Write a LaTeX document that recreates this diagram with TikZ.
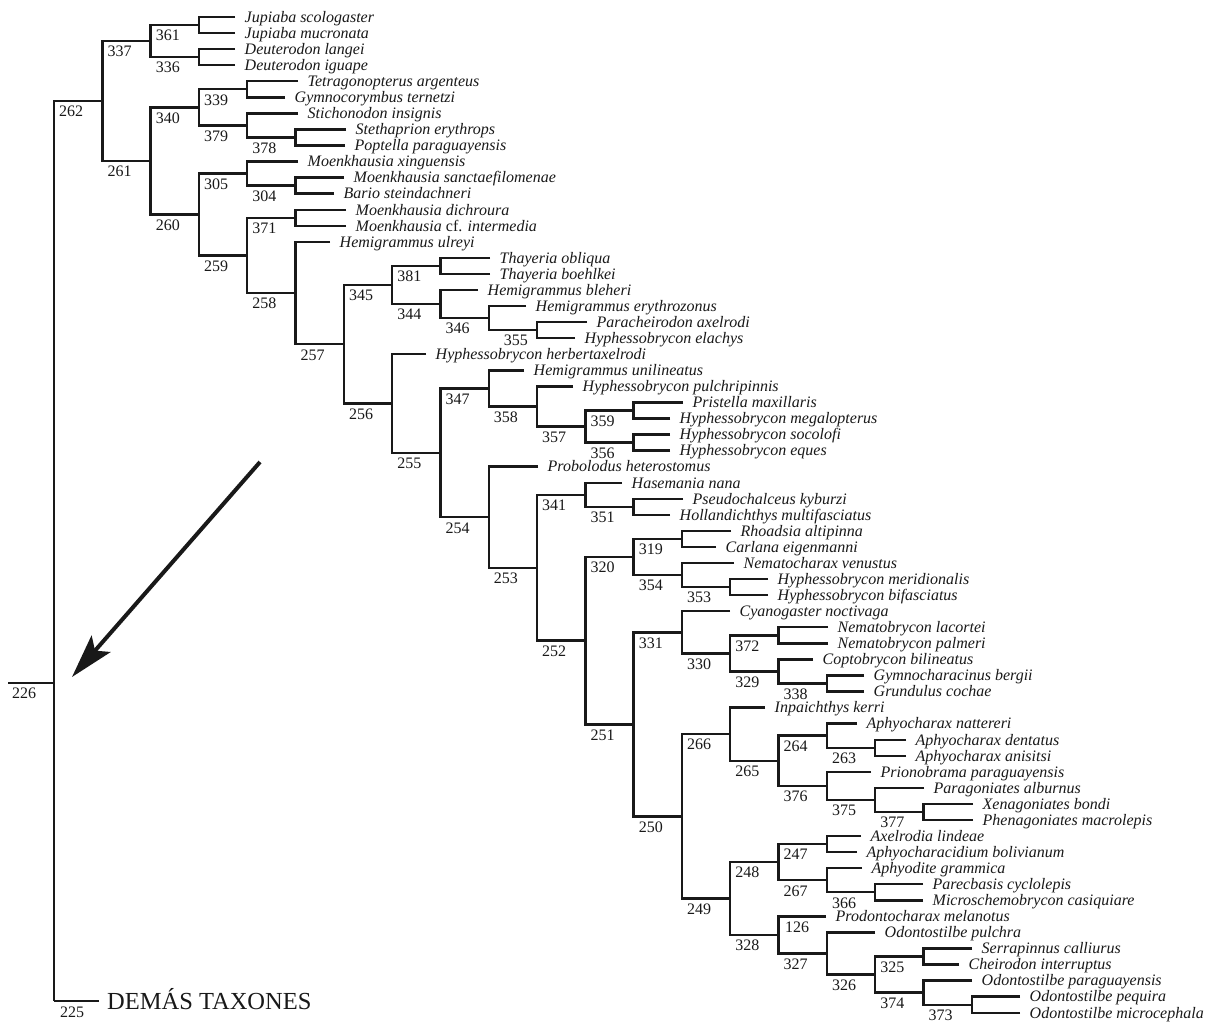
\documentclass[tikz,border=0pt]{standalone}
\usepackage{fontspec}
\setmainfont{Liberation Serif}
\usetikzlibrary{arrows.meta}
\newcommand\tleaf[3]{%
  \coordinate (l#1) at (#2,{17+(#1-1)*16.06});
  \node[tax] (t#1) at ([xshift=9.5pt]l#1) {#3};}
\newcommand\cedge[3]{%
  \draw[br] (#1) -| (#2);
  \path (#2 |- #1) ++(5,10.5) node[lab] (L#3) {#3};}
\newcommand\ledge[2]{\draw[br] (#1) -| (#2);}
\begin{document}
\begin{tikzpicture}[x=1pt,y=-1pt,
  br/.style={line width=2.4pt, color=black!90},
  tax/.style={font=\fontsize{16}{18}\selectfont\itshape, anchor=west, inner sep=0pt, text height=10.6pt, text depth=0pt, text=black!90},
  lab/.style={font=\fontsize{16}{18}\selectfont, anchor=west, inner sep=0pt, text height=10.6pt, text depth=0pt, text=black!90},
  big/.style={font=\fontsize{24.5}{28}\selectfont, anchor=west, inner sep=0pt, text height=16.2pt, text depth=0pt, text=black!90}]
\useasboundingbox[fill=white] (0,0) rectangle (1212,1023);
% leaves
\tleaf{1}{235}{Jupiaba scologaster}
\tleaf{2}{235}{Jupiaba mucronata}
\tleaf{3}{235}{Deuterodon langei}
\tleaf{4}{235}{Deuterodon iguape}
\tleaf{5}{298}{Tetragonopterus argenteus}
\tleaf{6}{285}{Gymnocorymbus ternetzi}
\tleaf{7}{298}{Stichonodon insignis}
\tleaf{8}{346}{Stethaprion erythrops}
\tleaf{9}{345}{Poptella paraguayensis}
\tleaf{10}{298}{Moenkhausia xinguensis}
\tleaf{11}{344}{Moenkhausia sanctaefilomenae}
\tleaf{12}{334}{Bario steindachneri}
\tleaf{13}{346}{Moenkhausia dichroura}
\tleaf{14}{346}{Moenkhausia \textup{cf.} intermedia}
\tleaf{15}{330}{Hemigrammus ulreyi}
\tleaf{16}{490}{Thayeria obliqua}
\tleaf{17}{490}{Thayeria boehlkei}
\tleaf{18}{478}{Hemigrammus bleheri}
\tleaf{19}{526}{Hemigrammus erythrozonus}
\tleaf{20}{587}{Paracheirodon axelrodi}
\tleaf{21}{575}{Hyphessobrycon elachys}
\tleaf{22}{426}{Hyphessobrycon herbertaxelrodi}
\tleaf{23}{524}{Hemigrammus unilineatus}
\tleaf{24}{573}{Hyphessobrycon pulchripinnis}
\tleaf{25}{683}{Pristella maxillaris}
\tleaf{26}{670}{Hyphessobrycon megalopterus}
\tleaf{27}{670}{Hyphessobrycon socolofi}
\tleaf{28}{670}{Hyphessobrycon eques}
\tleaf{29}{538}{Probolodus heterostomus}
\tleaf{30}{622}{Hasemania nana}
\tleaf{31}{683}{Pseudochalceus kyburzi}
\tleaf{32}{670}{Hollandichthys multifasciatus}
\tleaf{33}{731}{Rhoadsia altipinna}
\tleaf{34}{716}{Carlana eigenmanni}
\tleaf{35}{734}{Nematocharax venustus}
\tleaf{36}{768}{Hyphessobrycon meridionalis}
\tleaf{37}{768}{Hyphessobrycon bifasciatus}
\tleaf{38}{730}{Cyanogaster noctivaga}
\tleaf{39}{828}{Nematobrycon lacortei}
\tleaf{40}{828}{Nematobrycon palmeri}
\tleaf{41}{813}{Coptobrycon bilineatus}
\tleaf{42}{864}{Gymnocharacinus bergii}
\tleaf{43}{864}{Grundulus cochae}
\tleaf{44}{765}{Inpaichthys kerri}
\tleaf{45}{857}{Aphyocharax nattereri}
\tleaf{46}{906}{Aphyocharax dentatus}
\tleaf{47}{906}{Aphyocharax anisitsi}
\tleaf{48}{871}{Prionobrama paraguayensis}
\tleaf{49}{924}{Paragoniates alburnus}
\tleaf{50}{973}{Xenagoniates bondi}
\tleaf{51}{973}{Phenagoniates macrolepis}
\tleaf{52}{861}{Axelrodia lindeae}
\tleaf{53}{857}{Aphyocharacidium bolivianum}
\tleaf{54}{862}{Aphyodite grammica}
\tleaf{55}{923}{Parecbasis cyclolepis}
\tleaf{56}{923}{Microschemobrycon casiquiare}
\tleaf{57}{826}{Prodontocharax melanotus}
\tleaf{58}{875}{Odontostilbe pulchra}
\tleaf{59}{972}{Serrapinnus calliurus}
\tleaf{60}{959}{Cheirodon interruptus}
\tleaf{61}{972}{Odontostilbe paraguayensis}
\tleaf{62}{1020}{Odontostilbe pequira}
\tleaf{63}{1020}{Odontostilbe microcephala}
% internal nodes
\coordinate (root) at (54,1001);
\coordinate (n226) at (54,683);
\coordinate (a226) at (8,683);
\coordinate (n225) at (99,1001);
\coordinate (n262) at (102.3,101.0);
\coordinate (n337) at (150.6,41.09);
\coordinate (n361) at (198.9,25.03);
\coordinate (n336) at (198.9,57.15);
\coordinate (n261) at (150.6,160.915);
\coordinate (n340) at (198.9,107.34);
\coordinate (n339) at (247.2,89.27);
\coordinate (n379) at (247.2,125.405);
\coordinate (n378) at (295.5,137.45);
\coordinate (n260) at (198.9,214.49);
\coordinate (n305) at (247.2,173.585);
\coordinate (n304) at (295.5,185.63);
\coordinate (n259) at (247.2,255.40);
\coordinate (n371) at (295.5,217.75);
\coordinate (n258) at (295.5,293.05);
\coordinate (n257) at (343.8,344.265);
\coordinate (n345) at (392.1,285.0);
\coordinate (n381) at (440.4,265.93);
\coordinate (n344) at (440.4,304.07);
\coordinate (n346) at (488.7,318.125);
\coordinate (n355) at (537.0,330.17);
\coordinate (n256) at (392.1,403.53);
\coordinate (n255) at (440.4,452.80);
\coordinate (n347) at (488.7,388.39);
\coordinate (n358) at (537.0,406.455);
\coordinate (n357) at (585.3,426.53);
\coordinate (n359) at (633.6,410.47);
\coordinate (n356) at (633.6,442.59);
\coordinate (n254) at (488.7,517.205);
\coordinate (n253) at (537.0,567.73);
\coordinate (n341) at (585.3,494.785);
\coordinate (n351) at (633.6,506.83);
\coordinate (n252) at (585.3,640.675);
\coordinate (n320) at (633.6,557.02);
\coordinate (n319) at (681.9,538.95);
\coordinate (n354) at (681.9,575.085);
\coordinate (n353) at (730.2,587.13);
\coordinate (n251) at (633.6,724.33);
\coordinate (n331) at (681.9,632.30);
\coordinate (n330) at (730.2,653.38);
\coordinate (n372) at (778.5,635.31);
\coordinate (n329) at (778.5,671.445);
\coordinate (n338) at (826.8,683.49);
\coordinate (n250) at (681.9,816.36);
\coordinate (n266) at (730.2,734.18);
\coordinate (n265) at (778.5,760.78);
\coordinate (n264) at (826.8,735.685);
\coordinate (n263) at (875.1,747.73);
\coordinate (n376) at (826.8,785.87);
\coordinate (n375) at (875.1,799.925);
\coordinate (n377) at (923.4,811.97);
\coordinate (n249) at (730.2,898.545);
\coordinate (n248) at (778.5,862.16);
\coordinate (n247) at (826.8,844.09);
\coordinate (n267) at (826.8,880.225);
\coordinate (n366) at (875.1,892.27);
\coordinate (n328) at (778.5,934.93);
\coordinate (n327) at (826.8,953.50);
\coordinate (n326) at (875.1,974.58);
\coordinate (n325) at (923.4,956.51);
\coordinate (n374) at (923.4,992.645);
\coordinate (n373) at (971.7,1004.69);
% root
\draw[br] (a226) -- (n226);
\path (a226) ++(4,10) node[lab] (L226) {226};
\cedge{n262}{root}{262}
\draw[br] (n225) -- (root);
\path (root) ++(6,11) node[lab] (L225) {225};
\node[big] (demas) at ([xshift=8pt]n225) {DEMÁS TAXONES};
% edges
\cedge{n337}{n262}{337} \cedge{n261}{n262}{261}
\cedge{n361}{n337}{361} \cedge{n336}{n337}{336}
\ledge{l1}{n361} \ledge{l2}{n361} \ledge{l3}{n336} \ledge{l4}{n336}
\cedge{n340}{n261}{340} \cedge{n260}{n261}{260}
\cedge{n339}{n340}{339} \cedge{n379}{n340}{379}
\ledge{l5}{n339} \ledge{l6}{n339}
\ledge{l7}{n379} \cedge{n378}{n379}{378}
\ledge{l8}{n378} \ledge{l9}{n378}
\cedge{n305}{n260}{305} \cedge{n259}{n260}{259}
\ledge{l10}{n305} \cedge{n304}{n305}{304}
\ledge{l11}{n304} \ledge{l12}{n304}
\cedge{n371}{n259}{371} \cedge{n258}{n259}{258}
\ledge{l13}{n371} \ledge{l14}{n371}
\ledge{l15}{n258} \cedge{n257}{n258}{257}
\cedge{n345}{n257}{345} \cedge{n256}{n257}{256}
\cedge{n381}{n345}{381} \cedge{n344}{n345}{344}
\ledge{l16}{n381} \ledge{l17}{n381}
\ledge{l18}{n344} \cedge{n346}{n344}{346}
\ledge{l19}{n346}
\draw[br] (n355) -| (n346);
\path (n346 |- n355) ++(15,10.5) node[lab] (L355) {355};
\ledge{l20}{n355} \ledge{l21}{n355}
\ledge{l22}{n256} \cedge{n255}{n256}{255}
\cedge{n347}{n255}{347} \cedge{n254}{n255}{254}
\ledge{l23}{n347} \cedge{n358}{n347}{358}
\ledge{l24}{n358} \cedge{n357}{n358}{357}
\cedge{n359}{n357}{359} \cedge{n356}{n357}{356}
\ledge{l25}{n359} \ledge{l26}{n359} \ledge{l27}{n356} \ledge{l28}{n356}
\ledge{l29}{n254} \cedge{n253}{n254}{253}
\cedge{n341}{n253}{341} \cedge{n252}{n253}{252}
\ledge{l30}{n341} \cedge{n351}{n341}{351}
\ledge{l31}{n351} \ledge{l32}{n351}
\cedge{n320}{n252}{320} \cedge{n251}{n252}{251}
\cedge{n319}{n320}{319} \cedge{n354}{n320}{354}
\ledge{l33}{n319} \ledge{l34}{n319}
\ledge{l35}{n354} \cedge{n353}{n354}{353}
\ledge{l36}{n353} \ledge{l37}{n353}
\cedge{n331}{n251}{331} \cedge{n250}{n251}{250}
\ledge{l38}{n331} \cedge{n330}{n331}{330}
\cedge{n372}{n330}{372} \cedge{n329}{n330}{329}
\ledge{l39}{n372} \ledge{l40}{n372}
\ledge{l41}{n329} \cedge{n338}{n329}{338}
\ledge{l42}{n338} \ledge{l43}{n338}
\cedge{n266}{n250}{266} \cedge{n249}{n250}{249}
\ledge{l44}{n266} \cedge{n265}{n266}{265}
\cedge{n264}{n265}{264} \cedge{n376}{n265}{376}
\ledge{l45}{n264} \cedge{n263}{n264}{263}
\ledge{l46}{n263} \ledge{l47}{n263}
\ledge{l48}{n376} \cedge{n375}{n376}{375}
\ledge{l49}{n375} \cedge{n377}{n375}{377}
\ledge{l50}{n377} \ledge{l51}{n377}
\cedge{n248}{n249}{248} \cedge{n328}{n249}{328}
\cedge{n247}{n248}{247} \cedge{n267}{n248}{267}
\ledge{l52}{n247} \ledge{l53}{n247}
\ledge{l54}{n267} \cedge{n366}{n267}{366}
\ledge{l55}{n366} \ledge{l56}{n366}
\draw[br] (l57) -| (n328);
\path (n328 |- l57) ++(6.5,10.5) node[lab] (L126) {126};
\cedge{n327}{n328}{327}
\ledge{l58}{n327} \cedge{n326}{n327}{326}
\cedge{n325}{n326}{325} \cedge{n374}{n326}{374}
\ledge{l59}{n325} \ledge{l60}{n325}
\ledge{l61}{n374} \cedge{n373}{n374}{373}
\ledge{l62}{n373} \ledge{l63}{n373}
% arrow
\coordinate (atail) at (260,462);
\coordinate (ahead) at (72,677);
\draw[line width=4pt, color=black!90, -{Stealth[length=44pt,width=25pt,inset=9pt]}] (atail) -- (ahead);
\end{tikzpicture}
\end{document}
